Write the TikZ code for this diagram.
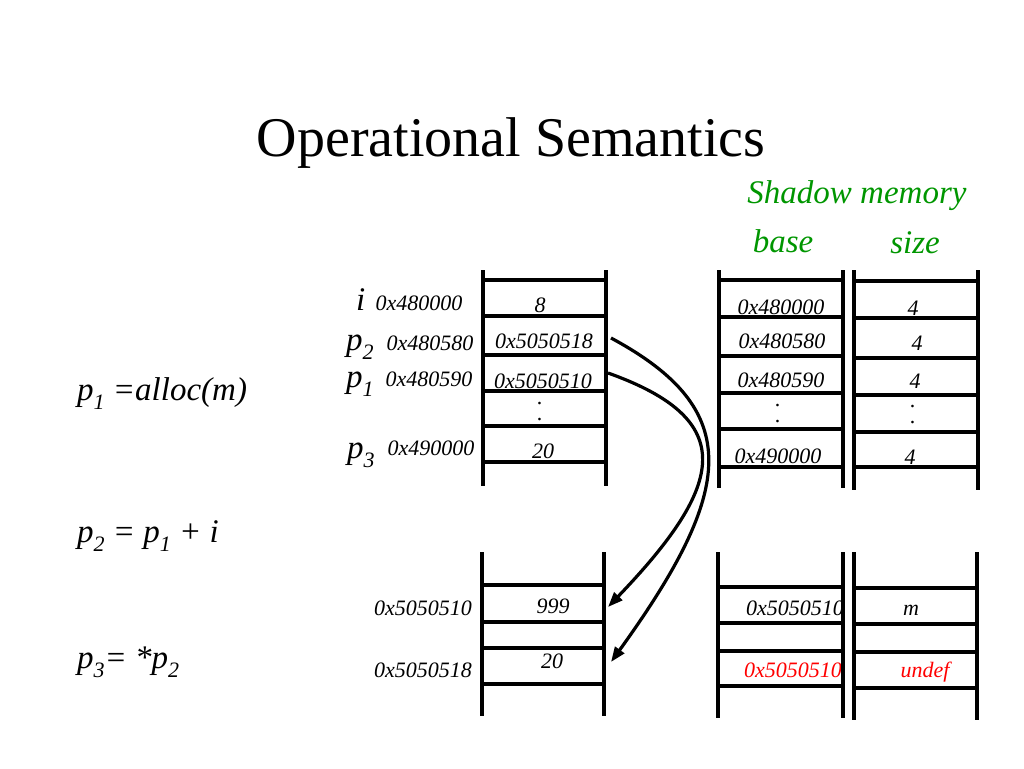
\documentclass[tikz,border=0pt]{standalone}
\usepackage{fontspec}
\setmainfont{Liberation Serif}
\usetikzlibrary{arrows.meta}
\definecolor{sgreen}{RGB}{0,150,0}
\definecolor{sred}{RGB}{255,0,0}
\newcommand{\mysub}[1]{\raisebox{-0.28em}{\fontsize{22}{22}\selectfont #1}}
\begin{document}
\begin{tikzpicture}[x=1pt,y=-1pt,
  vline/.style={line width=4pt},
  hline/.style={line width=3.6pt},
  val/.style={inner sep=0pt,anchor=base,font=\fontsize{22}{24}\selectfont\itshape},
  dotv/.style={val,text height=3pt,text depth=0pt},
  big/.style={inner sep=0pt,anchor=base west,font=\fontsize{33}{36}\selectfont\itshape},
  grn/.style={inner sep=0pt,anchor=base,text=sgreen,font=\fontsize{33}{36}\selectfont\itshape},
  ptr/.style={line width=3.2pt,-{Triangle[length=15pt,width=11pt]}},
]
\useasboundingbox (0,0) rectangle (1024,768);

% title and headers
\node[inner sep=0pt,anchor=base,font=\fontsize{56}{60}\selectfont] (title) at (511,156) {Operational Semantics};
\node[grn] (shadow) at (857,203) {Shadow memory};
\node[grn] (base) at (783,252) {base};
\node[grn] (size) at (915,253) {size};

% left statements
\node[big] (s1) at (77,400) {p\mysub{1} =alloc(m)};
\node[big] (s2) at (77,542) {p\mysub{2} = p\mysub{1} + i};
\node[big] (s3) at (77,668) {p\mysub{3}= *p\mysub{2}};

% variable labels
\node[big] (vi) at (356,310) {i};
\node[big] (vp2) at (346,350) {p\mysub{2}};
\node[big] (vp1) at (346,387) {p\mysub{1}};
\node[big] (vp3) at (347,458) {p\mysub{3}};
\node[val] (ai) at (419,310) {0x480000};
\node[val] (ap2) at (430,350) {0x480580};
\node[val] (ap1) at (429,386) {0x480590};
\node[val] (ap3) at (431,455) {0x490000};

% top memory cells
\node[val] (m1) at (540,312) {8};
\node[val] (m2) at (544,348) {0x5050518};
\node[val] (m3) at (543,388) {0x5050510};
\node[dotv] (md1) at (540,404) {.};
\node[dotv] (md2) at (540,420) {.};
\node[val] (m4) at (543,458) {20};

% top shadow base
\node[val] (b1) at (781,314) {0x480000};
\node[val] (b2) at (782,348) {0x480580};
\node[val] (b3) at (781,387) {0x480590};
\node[dotv] (bd1) at (778,406) {.};
\node[dotv] (bd2) at (778,422) {.};
\node[val] (b4) at (778,463) {0x490000};

% top shadow size
\node[val] (z1) at (913,315) {4};
\node[val] (z2) at (917,350) {4};
\node[val] (z3) at (915,388) {4};
\node[dotv] (zd1) at (913,407) {.};
\node[dotv] (zd2) at (913,423) {.};
\node[val] (z4) at (910,464) {4};

% bottom memory
\node[val] (la) at (423,615) {0x5050510};
\node[val] (lb) at (423,677) {0x5050518};
\node[val] (h1) at (553,613) {999};
\node[val] (h2) at (552,668) {20};
\node[val,anchor=base west] (hb1) at (746,615) {0x5050510};
\node[val,anchor=base west,text=sred] (hb2) at (744,677) {0x5050510};
\node[val] (hz1) at (911,615) {m};
\node[val,text=sred] (hz2) at (925,677) {undef};

% ladders: top
\foreach \y in {280,316,355,391,426,462} \draw[hline] (483,\y) -- (606,\y);
\draw[vline] (483,270) -- (483,486);
\draw[vline] (606,270) -- (606,486);
\foreach \y in {280,317,356,393,429,467} \draw[hline] (719,\y) -- (843,\y);
\draw[vline] (719,270) -- (719,488);
\draw[vline] (843,270) -- (843,488);
\foreach \y in {281,318,358,395,432,467} \draw[hline] (854,\y) -- (978,\y);
\draw[vline] (854,270) -- (854,490);
\draw[vline] (978,270) -- (978,490);

% ladders: bottom
\foreach \y in {585,622,648,684} \draw[hline] (482,\y) -- (604,\y);
\draw[vline] (482,552) -- (482,716);
\draw[vline] (604,552) -- (604,716);
\foreach \y in {587,623,651,686} \draw[hline] (718,\y) -- (843,\y);
\draw[vline] (718,552) -- (718,718);
\draw[vline] (843,552) -- (843,718);
\foreach \y in {588,624,652,688} \draw[hline] (854,\y) -- (977,\y);
\draw[vline] (854,552) -- (854,720);
\draw[vline] (977,552) -- (977,720);

% pointer arrows
\coordinate (a1s) at (611,338);
\coordinate (a1e) at (611,662);
\coordinate (a2s) at (608,373);
\coordinate (a2e) at (608,607);
\draw[ptr] (a1s) .. controls (745,410) and (735,490) .. (a1e);
\draw[ptr] (a2s) .. controls (740,420) and (725,485) .. (a2e);
\end{tikzpicture}
\end{document}
